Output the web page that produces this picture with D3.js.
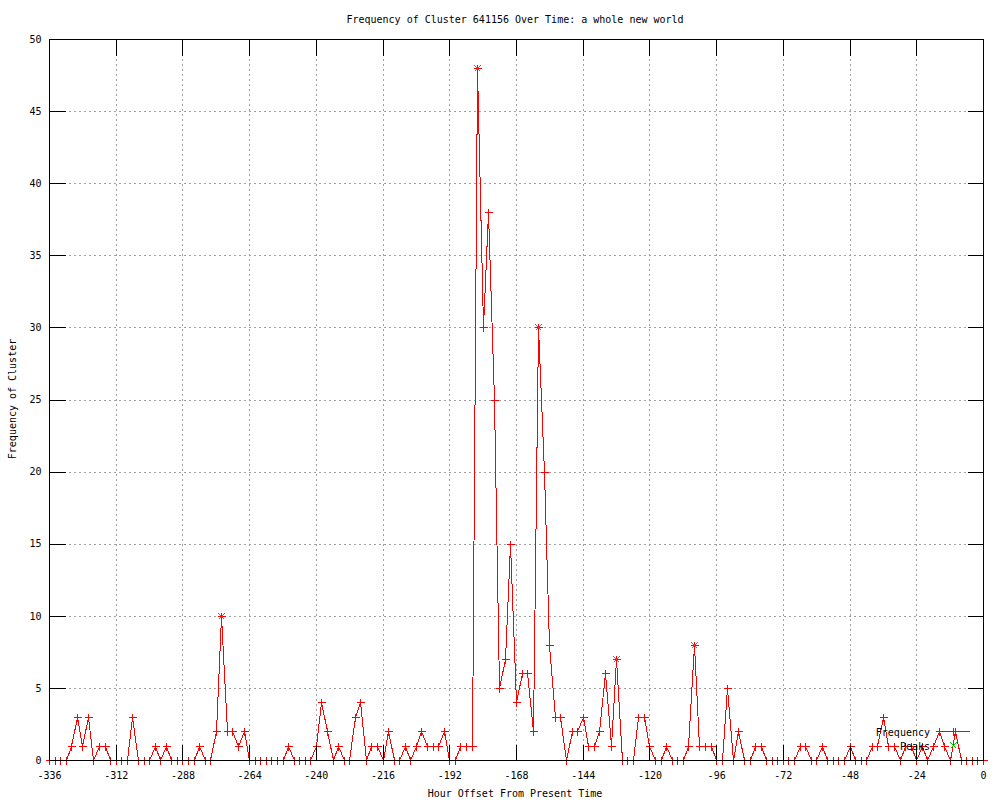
<!DOCTYPE html>
<html>
<head>
<meta charset="utf-8">
<script src="https://cdn.jsdelivr.net/npm/d3@7"></script>
<style>
  body { margin: 0; background: #fff; }
  text { font-family: "DejaVu Sans Mono", monospace; font-size: 10px; fill: #000; }
</style>
</head>
<body>
<svg id="canves"></svg>
<script>
// hour offsets, one sample every 2 hours
let hours = [
  -336,-334,-332,-330,-328,-326,-324,-322,-320,-318,
  -316,-314,-312,-310,-308,-306,-304,-302,-300,-298,
  -296,-294,-292,-290,-288,-286,-284,-282,-280,-278,
  -276,-274,-272,-270,-268,-266,-264,-262,-260,-258,
  -256,-254,-252,-250,-248,-246,-244,-242,-240,-238,
  -236,-234,-232,-230,-228,-226,-224,-222,-220,-218,
  -216,-214,-212,-210,-208,-206,-204,-202,-200,-198,
  -196,-194,-192,-190,-188,-186,-184,-182,-180,-178,
  -176,-174,-172,-170,-168,-166,-164,-162,-160,-158,
  -156,-154,-152,-150,-148,-146,-144,-142,-140,-138,
  -136,-134,-132,-130,-128,-126,-124,-122,-120,-118,
  -116,-114,-112,-110,-108,-106,-104,-102,-100,-98,
  -96,-94,-92,-90,-88,-86,-84,-82,-80,-78,
  -76,-74,-72,-70,-68,-66,-64,-62,-60,-58,
  -56,-54,-52,-50,-48,-46,-44,-42,-40,-38,
  -36,-34,-32,-30,-28,-26,-24,-22,-20,-18,
  -16,-14,-12,-10,-8,-6,-4,-2,0
];
let frequency = [
  0,0,0,0,1,3,1,3,0,1,
  1,0,0,0,0,3,0,0,0,1,
  0,1,0,0,0,0,0,1,0,0,
  2,10,2,2,1,2,0,0,0,0,
  0,0,0,1,0,0,0,0,1,4,
  2,0,1,0,0,3,4,0,1,1,
  0,2,0,0,1,0,1,2,1,1,
  1,2,0,0,1,1,1,48,30,38,
  25,5,7,15,4,6,6,2,30,20,
  8,3,3,0,2,2,3,1,1,2,
  6,1,7,0,0,0,3,3,1,0,
  0,1,0,0,0,1,8,1,1,1,
  0,0,5,0,2,0,0,1,1,0,
  0,0,0,0,0,1,1,0,0,1,
  0,0,0,0,1,0,0,0,1,1,
  3,1,1,0,1,1,0,1,0,1,
  2,1,0,2,0,0,0,0,0
];
let peakHours = [-274, -182, -160, -132, -104];
let peakValues = [10, 48, 30, 7, 8];

let xTicks = [-336,-312,-288,-264,-240,-216,-192,-168,-144,-120,-96,-72,-48,-24,0];
let yTicks = [0,5,10,15,20,25,30,35,40,45,50];

let title = "Frequency of Cluster 641156 Over Time: a whole new world";

let w = 1000;
let h = 800;
let pLeft = 49, pRight = 983, pTop = 39, pBottom = 760;

let canves = d3.select("#canves").attr("width", w).attr("height", h);

canves.append("rect").attr("width", w).attr("height", h).attr("fill", "#fff");

let xScale = d3.scaleLinear().domain([-336, 0]).range([pLeft, pRight]);
let yScale = d3.scaleLinear().domain([0, 50]).range([pBottom, pTop]);

// grid
let grid = canves.append("g")
  .attr("stroke", "#a0a0a0")
  .attr("stroke-dasharray", "2,3")
  .attr("shape-rendering", "crispEdges");

grid.selectAll(".gx")
    .data(xTicks.slice(1, -1))
    .enter()
    .append("line")
    .attr("x1", d => Math.round(xScale(d)) + 0.5)
    .attr("x2", d => Math.round(xScale(d)) + 0.5)
    .attr("y1", pTop)
    .attr("y2", pBottom);

grid.selectAll(".gy")
    .data(yTicks.slice(1, -1))
    .enter()
    .append("line")
    .attr("x1", pLeft)
    .attr("x2", pRight)
    .attr("y1", d => Math.round(yScale(d)) + 0.5)
    .attr("y2", d => Math.round(yScale(d)) + 0.5);

// frequency line
let line = d3.line()
  .x((d, i) => Math.round(xScale(hours[i])) + 0.5)
  .y(d => Math.round(yScale(d)) + 0.5);

canves.append("path")
  .datum(frequency)
  .attr("d", line)
  .attr("fill", "none")
  .attr("stroke", "#ff0000")
  .attr("stroke-width", 1)
  .attr("shape-rendering", "crispEdges");

let plus = (cx, cy, s) => `M${cx - s},${cy}H${cx + s}M${cx},${cy - s}V${cy + s}`;
let cross = (cx, cy, s) => `M${cx - s},${cy - s}L${cx + s},${cy + s}M${cx - s},${cy + s}L${cx + s},${cy - s}`;

canves.append("g")
  .selectAll("path")
  .data(frequency)
  .enter()
  .append("path")
  .attr("d", (d, i) => plus(Math.round(xScale(hours[i])) + 0.5, Math.round(yScale(d)) + 0.5, 4))
  .attr("stroke", "#ff0000")
  .attr("shape-rendering", "crispEdges");

canves.append("g")
  .selectAll("path")
  .data(peakValues)
  .enter()
  .append("path")
  .attr("d", (d, i) => cross(Math.round(xScale(peakHours[i])) + 0.5, Math.round(yScale(d)) + 0.5, 3))
  .attr("stroke", "#00c000")
  .attr("shape-rendering", "crispEdges");

// axes, ticks pointing inward on all four sides
let fmt = d => String(d);

let xAxis = canves.append("g")
  .attr("transform", `translate(0,${pBottom + 0.5})`)
  .call(d3.axisBottom(xScale).tickValues(xTicks).tickFormat(fmt).tickSizeInner(-16).tickSizeOuter(0).tickPadding(11));
let xTop = canves.append("g")
  .attr("transform", `translate(0,${pTop + 0.5})`)
  .call(d3.axisTop(xScale).tickValues(xTicks).tickFormat("").tickSizeInner(-16).tickSizeOuter(0));
let yAxis = canves.append("g")
  .attr("transform", `translate(${pLeft + 0.5},0)`)
  .call(d3.axisLeft(yScale).tickValues(yTicks).tickFormat(fmt).tickSizeInner(-16).tickSizeOuter(0).tickPadding(8));
let yRight = canves.append("g")
  .attr("transform", `translate(${pRight + 0.5},0)`)
  .call(d3.axisRight(yScale).tickValues(yTicks).tickFormat("").tickSizeInner(-16).tickSizeOuter(0));

[xAxis, xTop, yAxis, yRight].forEach(g => {
  g.select(".domain").remove();
  g.attr("font-family", null).attr("font-size", null);
  g.selectAll("line").attr("stroke", "#000").attr("shape-rendering", "crispEdges");
});

canves.append("rect")
  .attr("x", pLeft + 0.5)
  .attr("y", pTop + 0.5)
  .attr("width", pRight - pLeft)
  .attr("height", pBottom - pTop)
  .attr("fill", "none")
  .attr("stroke", "#000")
  .attr("shape-rendering", "crispEdges");

// labels
canves.append("text")
  .attr("x", 515)
  .attr("y", 23)
  .attr("text-anchor", "middle")
  .text(title);

canves.append("text")
  .attr("x", 515)
  .attr("y", 797)
  .attr("text-anchor", "middle")
  .text("Hour Offset From Present Time");

canves.append("text")
  .attr("transform", "translate(16,399) rotate(-90)")
  .attr("text-anchor", "middle")
  .text("Frequency of Cluster");

// legend
let legend = canves.append("g");
legend.append("text")
  .attr("x", 930)
  .attr("y", 732)
  .attr("dy", "0.35em")
  .attr("text-anchor", "end")
  .text("Frequency");
legend.append("line")
  .attr("x1", 937).attr("x2", 970)
  .attr("y1", 731.5).attr("y2", 731.5)
  .attr("stroke", "#ff0000")
  .attr("shape-rendering", "crispEdges");
legend.append("path")
  .attr("d", plus(953.5, 731.5, 4))
  .attr("stroke", "#ff0000")
  .attr("shape-rendering", "crispEdges");
legend.append("text")
  .attr("x", 930)
  .attr("y", 746)
  .attr("dy", "0.35em")
  .attr("text-anchor", "end")
  .text("Peaks");
legend.append("path")
  .attr("d", cross(953.5, 745.5, 3))
  .attr("stroke", "#00c000")
  .attr("shape-rendering", "crispEdges");
</script>
</body>
</html>
